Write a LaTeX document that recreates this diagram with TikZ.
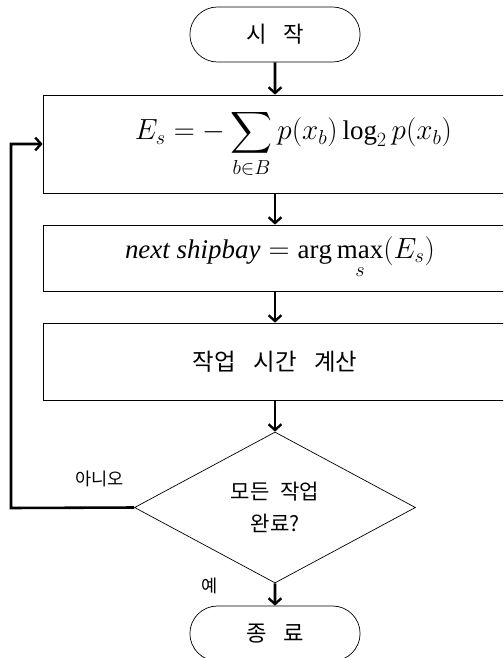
\documentclass[tikz,border=0pt]{standalone}
\usepackage{amsmath}
\usepackage{fontspec}
\setmainfont{Liberation Serif}
\newfontfamily\kr{Noto Sans CJK KR}
\usetikzlibrary{positioning,arrows.meta,shapes.geometric,shapes.misc}
\newcommand{\gap}{\hspace{0.75em}} % Wortabstand

\begin{document}
\begin{tikzpicture}[node distance=3.3cm]

		\tikzset{%
			terminal/.style = {draw, semithick, rounded rectangle, minimum width = 5.34cm,
				minimum height = 1.65cm, font = \kr\fontsize{19}{22}\selectfont},
			block/.style    = {draw, semithick, rectangle, minimum width = 13.92cm,
				font = \fontsize{23}{27}\selectfont}, % Prozess
			decision/.style = {draw, semithick, diamond, aspect = 1.86, inner sep = 0pt,
				minimum width = 8.43cm, minimum height = 4.53cm, align = center,
				font = \kr\fontsize{18}{27}\selectfont},
			lbl/.style      = {font = \kr\fontsize{15}{18}\selectfont},
			flow/.style     = {line width = 2.2pt, -{Straight Barb[length=5pt,width=11pt,line width=2pt]}}
		}

		\clip (0,0) rectangle (15.09,-19.74);

		\node[terminal] (start) at (8.25,-1.035) {시\gap 작};
		\node[block, minimum height = 2.94cm, below of=start, node distance = 3.285cm] (entropy)
			{\hspace{1.1cm}$\displaystyle E_s = -\sum_{b\in B} p(x_b)\log_2 p(x_b)$};
		\node[block, minimum height = 1.98cm, below of=entropy, node distance = 3.42cm] (select)
			{\hspace{0.3cm}$\displaystyle \textit{next shipbay} = \arg\max_{s}(E_s)$};
		\node[block, minimum height = 2.31cm, below of=select, node distance = 3.105cm, font = \kr\fontsize{20}{24}\selectfont] (time)
			{작업\gap 시간\gap 계산};
		\node[decision, below of=time, node distance = 4.38cm] (done) {모든\hspace{0.5em}작업\\완료?};
		\node[terminal, below of=done, node distance = 3.78cm] (stop) {종\gap 료};
		\coordinate (back) at (0.33,-15.24); % Ruecksprung

		% Beschriftung
		\node[lbl, above left = 0.5cm and 0.18cm of done.west] (no) {아니오};
		\node[lbl, left = 1.6cm of done.south, yshift = -2pt] (yes) {예};

		% Pfeile
		\draw[flow] (start) -- (entropy);
		\draw[flow] (entropy) -- (select);
		\draw[flow] (select) -- (time);
		\draw[flow] (time) -- (done);
		\draw[flow] (done) -- (stop);
		\draw[flow] (done.west) -- (back) |- (entropy.west);
\end{tikzpicture}
\end{document}
